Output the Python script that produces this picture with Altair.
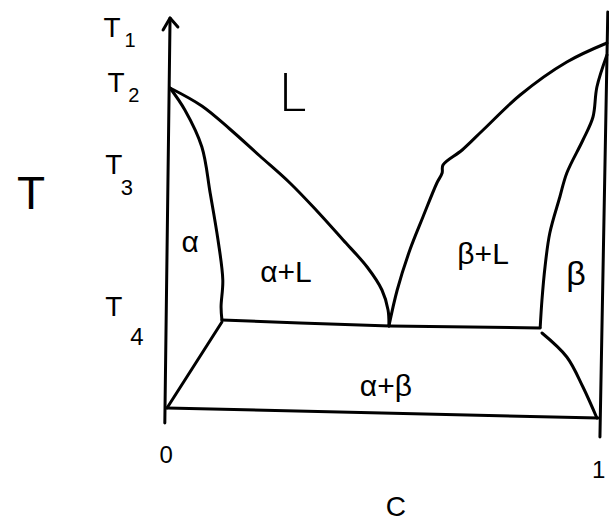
import altair as alt
import pandas as pd

# Binary eutectic phase diagram, composition C (0..1) against temperature T
# (T in arbitrary units above the lowest drawn isotherm).

# frame: temperature axis with arrow, right-hand axis, bottom line
axis_left_c = [0.007, -0.005]
axis_left_t = [390, -15]
arrow_c = [-0.009, 0.007, 0.025]
arrow_t = [378, 390, 381]
axis_right_c = [1.011, 0.993]
axis_right_t = [396, -29]
base_c = [0.0, 0.989]
base_t = [0, -10]

# eutectic isotherm (T4)
eutectic_c = [0.126, 0.305, 0.511, 0.856]
eutectic_t = [88, 85, 82, 80]

# left side: alpha solidus, liquidus and solvus
alpha_solidus_c = [0.007, 0.041, 0.080, 0.099, 0.117, 0.128, 0.124, 0.126]
alpha_solidus_t = [320, 298, 261, 215, 168, 128, 101, 88]
alpha_liquidus_c = [0.007, 0.080, 0.144, 0.213, 0.282, 0.344, 0.404, 0.459, 0.493, 0.507, 0.509]
alpha_liquidus_t = [320, 302, 279, 252, 225, 197, 168, 141, 118, 98, 82]
alpha_solvus_c = [0.126, 0.0]
alpha_solvus_t = [86, 0]

# right side: beta liquidus, solidus and solvus
beta_liquidus_c = [0.509, 0.528, 0.557, 0.587, 0.619, 0.631, 0.633, 0.677, 0.725, 0.810, 0.917, 1.009]
beta_liquidus_t = [82, 118, 158, 191, 225, 235, 243, 258, 278, 313, 346, 365]
beta_solidus_c = [1.009, 0.986, 0.977, 0.954, 0.917, 0.901, 0.878, 0.867, 0.860, 0.856]
beta_solidus_t = [353, 321, 291, 268, 235, 211, 175, 141, 108, 81]
beta_solvus_c = [0.860, 0.917, 0.954, 0.986]
beta_solvus_t = [75, 51, 21, -10]

straight = {
    "axis_left": (axis_left_c, axis_left_t),
    "arrow": (arrow_c, arrow_t),
    "axis_right": (axis_right_c, axis_right_t),
    "base": (base_c, base_t),
    "eutectic": (eutectic_c, eutectic_t),
    "alpha_solvus": (alpha_solvus_c, alpha_solvus_t),
}
curved = {
    "alpha_solidus": (alpha_solidus_c, alpha_solidus_t),
    "alpha_liquidus": (alpha_liquidus_c, alpha_liquidus_t),
    "beta_liquidus": (beta_liquidus_c, beta_liquidus_t),
    "beta_solidus": (beta_solidus_c, beta_solidus_t),
    "beta_solvus": (beta_solvus_c, beta_solvus_t),
}


def to_frame(curves):
    rows = []
    for name, (cs, ts) in curves.items():
        for i, (c, t) in enumerate(zip(cs, ts)):
            rows.append({"curve": name, "i": i, "C": c, "T": t})
    return pd.DataFrame(rows)


# labels: text, position and font size
label_text = ["T", "1", "T", "2", "T", "3", "T", "4", "T", "0", "1", "C",
              "α", "α+L", "β+L", "β", "α+β"]
label_c = [-0.126, -0.085, -0.117, -0.076, -0.122, -0.092, -0.122, -0.069, -0.312,
           -0.002, 0.990, 0.525, 0.053, 0.273, 0.725, 0.938, 0.502]
label_t = [379, 367, 324, 312, 242, 220, 100, 70, 213,
           -48, -63, -100, 165, 135, 153, 133, 21]
label_size = [28, 20, 28, 20, 28, 22, 28, 24, 46,
              24, 24, 28, 30, 30, 30, 34, 30]

labels = pd.DataFrame({"text": label_text, "C": label_c, "T": label_t, "size": label_size})

# the liquid region's label
liquid_label = pd.DataFrame({"text": ["L"], "C": [0.287], "T": [313]})

x_scale = alt.Scale(domain=[-0.383028, 1.013761], nice=False, zero=False)
y_scale = alt.Scale(domain=[-117, 408], nice=False, zero=False)

x_enc = alt.X("C:Q", scale=x_scale, axis=None)
y_enc = alt.Y("T:Q", scale=y_scale, axis=None)

straight_lines = alt.Chart(to_frame(straight)).mark_line(
    color="black", strokeWidth=3, strokeCap="round", strokeJoin="round"
).encode(x=x_enc, y=y_enc, detail="curve:N", order="i:Q")

curved_lines = alt.Chart(to_frame(curved)).mark_line(
    color="black", strokeWidth=3, strokeCap="round", strokeJoin="round",
    interpolate="catmull-rom"
).encode(x=x_enc, y=y_enc, detail="curve:N", order="i:Q")

text = alt.Chart(labels).mark_text(
    color="black", font="Liberation Sans", baseline="middle", align="center"
).encode(
    x=x_enc, y=y_enc, text="text:N",
    size=alt.Size("size:Q", scale=None, legend=None),
)

liquid = alt.Chart(liquid_label).mark_text(
    color="black", font="Lato", fontWeight=300, fontSize=54,
    baseline="middle", align="center"
).encode(x=x_enc, y=y_enc, text="text:N")

chart = alt.layer(straight_lines, curved_lines, text, liquid).properties(
    width=609, height=525, padding=0, autosize=alt.AutoSizeParams(type="none"),
    background="white",
).configure_view(stroke=None)

chart.save("out.html", embed_options={"renderer": "svg", "actions": False})
